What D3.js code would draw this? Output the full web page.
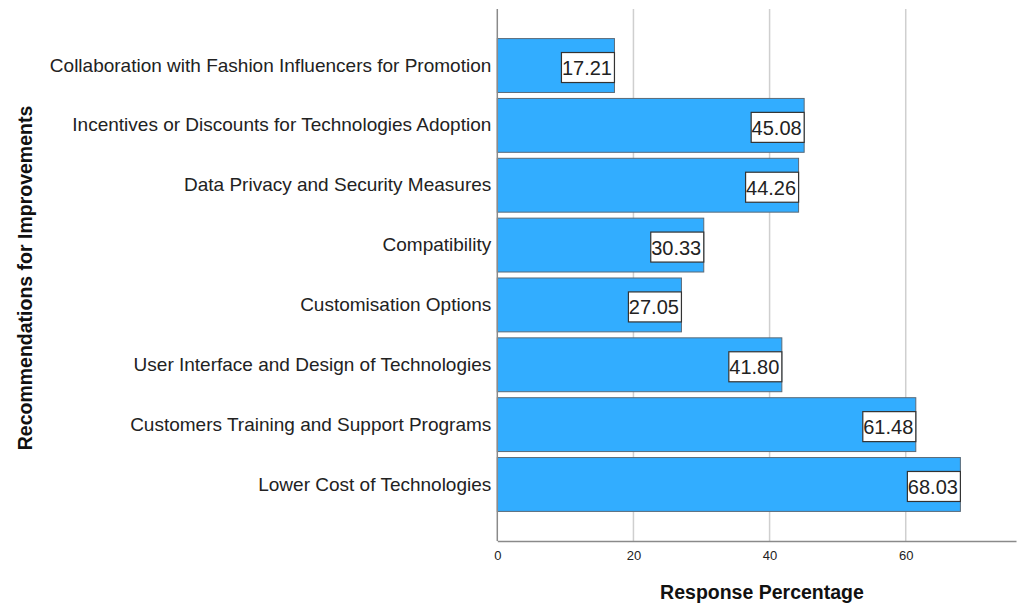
<!DOCTYPE html>
<html>
<head>
<meta charset="utf-8">
<script src="https://cdn.jsdelivr.net/npm/d3@7/dist/d3.min.js"></script>
<style>
  body { margin: 0; background: #fff; }
  svg { display: block; font-family: "Liberation Sans", Arial, sans-serif; }
</style>
</head>
<body>
<script>
// chart data, top to bottom
var categories = [
    "Collaboration with Fashion Influencers for Promotion",
    "Incentives or Discounts for Technologies Adoption",
    "Data Privacy and Security Measures",
    "Compatibility",
    "Customisation Options",
    "User Interface and Design of Technologies",
    "Customers Training and Support Programs",
    "Lower Cost of Technologies"
];
var percentages = [17.21, 45.08, 44.26, 30.33, 27.05, 41.80, 61.48, 68.03];
var xTicks = [0, 20, 40, 60];

var width = 1018,
    height = 605;

var svg = d3.select("body")
    .append("svg")
    .attr("width", width)
    .attr("height", height);

//scales
var x = d3.scaleLinear()
    .domain([0, 76.2])
    .range([497.3, 1016]);

var y = d3.scaleBand()
    .domain(categories)
    .range([35.6, 514.4])
    .paddingInner(0.1)
    .paddingOuter(0.05);

var plotTop = 9,
    plotBottom = 541;

//grid lines
svg.append("g")
    .selectAll("line")
    .data(xTicks.slice(1))
    .enter()
    .append("line")
    .attr("x1", function(d){ return x(d); })
    .attr("x2", function(d){ return x(d); })
    .attr("y1", plotTop)
    .attr("y2", plotBottom)
    .attr("stroke", "#cfcfcf")
    .attr("stroke-width", 1.5);

//bars
svg.append("g")
    .selectAll("rect")
    .data(categories)
    .enter()
    .append("rect")
    .attr("x", x(0))
    .attr("y", function(d){ return y(d); })
    .attr("width", function(d, i){ return x(percentages[i]) - x(0); })
    .attr("height", y.bandwidth())
    .attr("fill", "#32adff")
    .attr("stroke", "#5a6a78")
    .attr("stroke-width", 1);

//value labels in boxes at bar ends
var labels = svg.append("g")
    .selectAll("g")
    .data(categories)
    .enter()
    .append("g")
    .attr("transform", function(d, i){
        return "translate(" + x(percentages[i]) + "," + (y(d) + y.bandwidth() / 2 + 2) + ")";
    });

labels.append("rect")
    .attr("x", -53)
    .attr("y", -15)
    .attr("width", 53)
    .attr("height", 30)
    .attr("fill", "#fff")
    .attr("stroke", "#333")
    .attr("stroke-width", 1.2);

labels.append("text")
    .attr("x", -2.5)
    .attr("y", 7.5)
    .attr("text-anchor", "end")
    .attr("font-size", "20px")
    .attr("fill", "#222")
    .text(function(d, i){ return percentages[i].toFixed(2); });

//x axis
var xAxis = svg.append("g")
    .attr("transform", "translate(0," + plotBottom + ")")
    .call(d3.axisBottom(x).tickValues(xTicks).tickSize(0).tickPadding(10));

xAxis.select(".domain")
    .attr("stroke", "#8a8a8a")
    .attr("stroke-width", 1.5);

xAxis.selectAll("text")
    .attr("font-size", "13px")
    .attr("font-family", "Liberation Sans, Arial, sans-serif")
    .attr("fill", "#222");

//y axis
var yAxis = svg.append("g")
    .attr("transform", "translate(" + x(0) + ",0)")
    .call(d3.axisLeft(y).tickSize(0).tickPadding(6));

yAxis.select(".domain")
    .attr("d", "M0," + plotTop + "V" + plotBottom)
    .attr("stroke", "#8a8a8a")
    .attr("stroke-width", 1.5);

yAxis.selectAll("text")
    .attr("font-size", "19px")
    .attr("font-family", "Liberation Sans, Arial, sans-serif")
    .attr("fill", "#222");

//axis titles
svg.append("text")
    .attr("x", 762)
    .attr("y", 599)
    .attr("text-anchor", "middle")
    .attr("font-size", "19.5px")
    .attr("font-weight", "bold")
    .attr("fill", "#111")
    .text("Response Percentage");

svg.append("text")
    .attr("transform", "translate(32,278) rotate(-90)")
    .attr("text-anchor", "middle")
    .attr("font-size", "19.5px")
    .attr("font-weight", "bold")
    .attr("fill", "#111")
    .text("Recommendations for Improvements");
</script>
</body>
</html>
